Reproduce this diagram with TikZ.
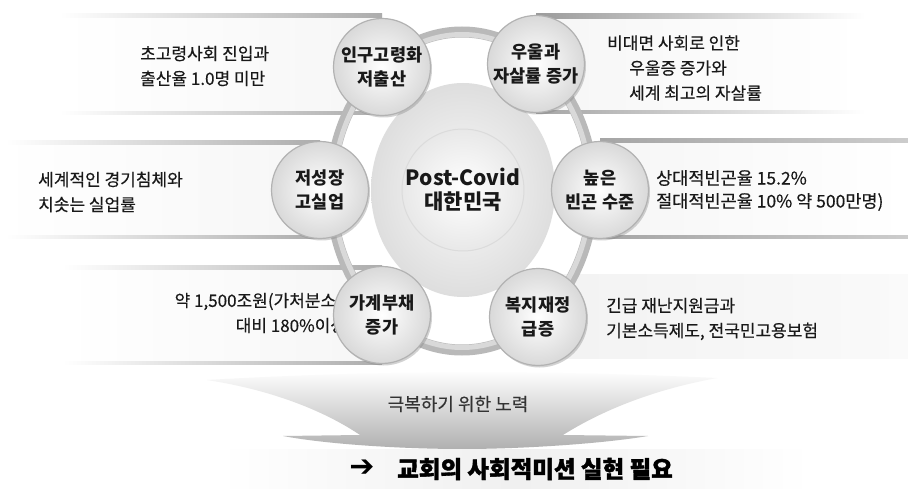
\documentclass[tikz,border=0pt]{standalone}
\usepackage{fontspec}
\newfontfamily\kr{Noto Sans CJK KR}
\newfontfamily\krm[FakeBold=0.35]{Noto Sans CJK KR}
\newfontfamily\krh[BoldFeatures={FakeBold=1.6}]{Noto Sans CJK KR}
\newfontfamily\dv{DejaVu Sans}
\usetikzlibrary{shadows}
\tikzset{
  ball/.style={circle, minimum size=97pt, inner sep=0pt, draw=gray!60, line width=1.2pt,
    inner color=white, outer color=gray!30, align=center, text=black!90,
    font=\kr\bfseries\fontsize{17.5pt}{24pt}\selectfont,
    drop shadow={shadow xshift=1.5pt, shadow yshift=-2pt, opacity=0.35}},
  sidetext/.style={font=\krm\fontsize{17pt}{25pt}\selectfont, inner sep=0pt, text=black!90},
  bodyL/.style={left color=white, right color=gray!7},
  bodyR/.style={left color=gray!7, right color=white},
  lineL/.style={left color=white, right color=gray!65},
  lineR/.style={left color=gray!70, right color=white},
}
\begin{document}
\begin{tikzpicture}[x=1pt,y=-1pt]
\useasboundingbox (0,0) rectangle (908,489);
\fill[white] (0,0) rectangle (908,489);

% ---- banners (left)
\shade[bodyL] (60,15) rectangle (382,114);
\shade[lineL] (60,14) rectangle (382,17.5);
\shade[lineL] (60,112) rectangle (382,115);

\shade[bodyL] (0,142) rectangle (320,238);
\shade[lineL] (6,141) rectangle (320,144.5);
\shade[lineL] (6,236) rectangle (320,239);

\shade[bodyL] (63,267) rectangle (382,363);
\shade[lineL] (63,266) rectangle (382,269.5);
\shade[lineL] (63,361) rectangle (382,364);

% ---- banners (right)
\shade[bodyR] (536,15) rectangle (865,113);
\shade[left color=gray!78, right color=white] (536,14) rectangle (865,18.5);
\shade[lineR] (536,111) rectangle (865,114);

\shade[bodyR] (600,140) rectangle (908,238);
\shade[left color=gray!70, right color=gray!40] (600,139) rectangle (908,142.5);
\shade[left color=gray!70, right color=gray!40] (600,236) rectangle (908,239);

\shade[left color=gray!10, right color=gray!4] (538,275) rectangle (908,358);

% ---- side texts
\node[sidetext, anchor=west, align=left] (tTL) at (140,66) {초고령사회 진입과\\출산율 1.0명 미만};
\node[sidetext, anchor=west, align=left] (tML) at (38,192) {세계적인 경기침체와\\치솟는 실업률};
\node[sidetext, anchor=east, align=right] (tBL) at (352,314) {약 1,500조원(가처분소득\\대비 180\%이상)};
\node[sidetext, anchor=west, align=left] (tTR) at (607,68) {비대면 사회로 인한\\\hspace*{22pt}우울증 증가와\\\hspace*{22pt}세계 최고의 자살률};
\node[sidetext, anchor=west, align=left, font=\krm\fontsize{17.5pt}{23pt}\selectfont] (tMR) at (656,190.5) {상대적빈곤율 15.2\%\\절대적빈곤율 10\% 약 500만명)};
\node[sidetext, anchor=west, align=left] (tBR) at (606,319) {긴급 재난지원금과\\기본소득제도, 전국민고용보험};

% ---- ring
\draw[line width=11pt, gray!55] (462,191) ellipse [x radius=131, y radius=159];
\draw[line width=5pt, gray!30] (462,191) ellipse [x radius=128.5, y radius=156.5];

% ---- halo and core
\shade[inner color=gray!4, outer color=gray!26] (463,190) ellipse [x radius=92, y radius=107];
\node[circle, minimum size=120pt, inner sep=0pt, inner color=white, outer color=gray!18,
  draw=gray!28, line width=1pt, align=center, text=black!90,
  font=\kr\bfseries\fontsize{21pt}{24pt}\selectfont] (core) at (463,190) {Post-Covid\\대한민국};

% ---- satellite circles
\node[ball] (aging) at (382,67) {인구고령화\\저출산};
\node[ball] (depress) at (536,64) {우울과\\자살률 증가};
\node[ball] (growth) at (320,190) {저성장\\고실업};
\node[ball] (poverty) at (600,190) {높은\\빈곤 수준};
\node[ball] (debt) at (382,315) {가계부채\\증가};
\node[ball] (welfare) at (538,317) {복지재정\\급증};

% ---- funnel
\shade[top color=white, bottom color=gray!62]
  (207,380) .. controls (380,370) and (545,370) .. (717,378)
  .. controls (640,392) and (590,418) .. (563,435)
  -- (648,436) .. controls (600,444) and (520,449) .. (463,449)
  .. controls (400,449) and (325,444) .. (283,436)
  -- (360,435) .. controls (335,418) and (285,392) .. (207,380) -- cycle;
\node[font=\krm\fontsize{18pt}{22pt}\selectfont, text=black!80, inner sep=0pt] (effort) at (458,404) {극복하기 위한 노력};

% ---- bottom band
\shade[left color=white, right color=white, middle color=gray!12] (220,449) rectangle (811,489);
\node[font=\dv\bfseries\fontsize{30pt}{32pt}\selectfont, inner sep=0pt] (arrow) at (362,468) {➔};
\node[font=\krh\bfseries\fontsize{23.5pt}{26pt}\selectfont, anchor=west, inner sep=0pt] (mission) at (397,469) {교회의 사회적미션 실현 필요};
\end{tikzpicture}
\end{document}
